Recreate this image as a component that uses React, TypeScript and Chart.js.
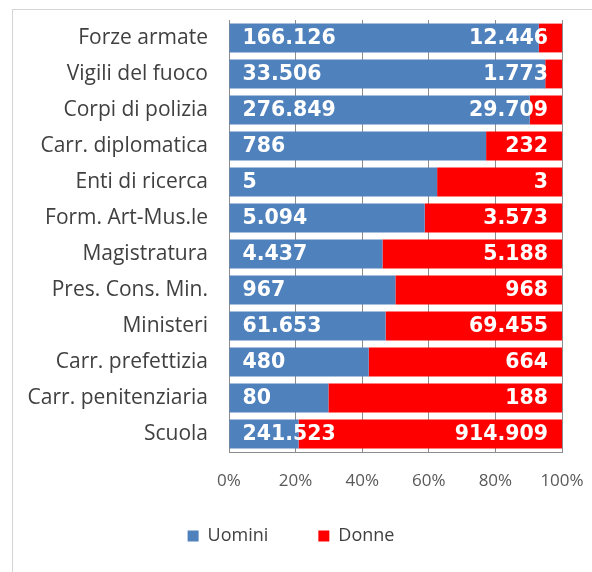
import React, { useEffect, useRef } from "react";
import { Chart, registerables } from "chart.js";

Chart.register(...registerables);

const categories = [
  "Forze armate",
  "Vigili del fuoco",
  "Corpi di polizia",
  "Carr. diplomatica",
  "Enti di ricerca",
  "Form. Art-Mus.le",
  "Magistratura",
  "Pres. Cons. Min.",
  "Ministeri",
  "Carr. prefettizia",
  "Carr. penitenziaria",
  "Scuola",
];
const uomini = [166126, 33506, 276849, 786, 5, 5094, 4437, 967, 61653, 480, 80, 241523];
const donne = [12446, 1773, 29709, 232, 3, 3573, 5188, 968, 69455, 664, 188, 914909];
const seriesNames = ["Uomini", "Donne"];
const seriesColors = ["#4F81BD", "#FF0000"];
const xTickValues = [0, 20, 40, 60, 80, 100];

const counts = [uomini, donne];
const pct = (a: number[], b: number[]) => a.map((v, i) => (v / (v + b[i])) * 100);

const fmt = (v: number) => String(v).replace(/\B(?=(\d{3})+(?!\d))/g, ".");

const valueLabels = {
  id: "valueLabels",
  afterDatasetsDraw(chart: any) {
    const ctx = chart.ctx;
    ctx.save();
    ctx.font = 'bold 20.5px "DejaVu Sans"';
    ctx.fillStyle = "#ffffff";
    ctx.textBaseline = "middle";
    chart.data.datasets.forEach((_ds: any, i: number) => {
      const meta = chart.getDatasetMeta(i);
      meta.data.forEach((bar: any, j: number) => {
        const left = Math.min(bar.x, bar.base);
        const right = Math.max(bar.x, bar.base);
        const text = fmt(counts[i][j]);
        if (i === 0) {
          ctx.textAlign = "left";
          ctx.fillText(text, left + 13, bar.y + 1);
        } else {
          ctx.textAlign = "right";
          ctx.fillText(text, right - 14, bar.y + 1);
        }
      });
    });
    ctx.restore();
  },
};

// nudge the legend box so item spacing and vertical placement match the original
const legendShift = {
  id: "legendShift",
  afterLayout(chart: any) {
    const l = chart.legend;
    if (!l) return;
    l.top -= 11;
    l.bottom -= 11;
    l.left += 10;
    l.right += 10;
  },
};

export default function App() {
  const ref = useRef<HTMLCanvasElement | null>(null);
  useEffect(() => {
    if (!ref.current) return;
    const chart = new Chart(ref.current, {
      type: "bar",
      data: {
        labels: categories,
        datasets: [
          {
            label: seriesNames[0],
            data: pct(uomini, donne),
            backgroundColor: seriesColors[0],
            borderWidth: 0,
            barPercentage: 0.8,
            categoryPercentage: 1,
          },
          {
            label: seriesNames[1],
            data: pct(donne, uomini),
            backgroundColor: seriesColors[1],
            borderWidth: 0,
            barPercentage: 0.8,
            categoryPercentage: 1,
          },
        ],
      },
      options: {
        indexAxis: "y",
        responsive: false,
        animation: false,
        layout: { padding: { left: 0, right: 30, top: 20, bottom: 6 } },
        scales: {
          x: {
            stacked: true,
            min: xTickValues[0],
            max: xTickValues[xTickValues.length - 1],
            afterBuildTicks: (s: any) => {
              s.ticks = xTickValues.map((v) => ({ value: v }));
            },
            ticks: {
              callback: (v: any) => v + "%",
              padding: 0,
              color: "#595959",
              font: { family: "Open Sans", size: 17 },
              maxRotation: 0,
            },
            grid: { color: "#8c8c8c", drawTicks: true, tickLength: 19, tickColor: "rgba(0,0,0,0)" },
            border: { color: "#8c8c8c" },
            afterFit: (s: any) => {
              s.height = 36;
            },
          },
          y: {
            stacked: true,
            grid: { display: true, color: "rgba(0,0,0,0)", drawTicks: true, tickLength: 21, tickColor: "rgba(0,0,0,0)" },
            border: { display: true, color: "#8c8c8c" },
            ticks: {
              padding: 0,
              color: "#404040",
              font: { family: "Open Sans", size: 21 },
              autoSkip: false,
            },
            afterFit: (s: any) => {
              s.width = 229;
            },
          },
        },
        plugins: {
          legend: {
            position: "bottom",
            labels: {
              boxWidth: 11,
              boxHeight: 11,
              padding: 50,
              color: "#404040",
              font: { family: "Open Sans", size: 18 },
            },
          },
          tooltip: { enabled: false },
        },
      } as any,
      plugins: [valueLabels, legendShift],
    });
    return () => chart.destroy();
  }, []);

  return (
    <div style={{ position: "absolute", left: 0, top: 0, width: 592, height: 572, background: "#fff" }}>
      <div
        style={{
          position: "absolute",
          left: 12,
          top: 9,
          right: 0,
          bottom: 0,
          borderTop: "1px solid #d4d4d4",
          borderLeft: "1px solid #d4d4d4",
        }}
      />
      <canvas ref={ref} width={592} height={572} style={{ position: "absolute", left: 0, top: 0 }} />
    </div>
  );
}
